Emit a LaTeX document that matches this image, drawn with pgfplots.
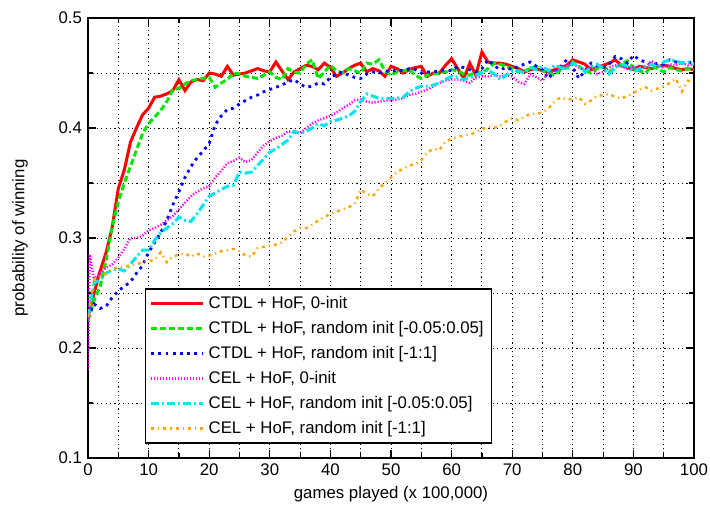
\documentclass[border=0pt]{standalone}
\usepackage{fontspec}
\setmainfont{Liberation Sans}
\usepackage{pgfplots}
\usepackage{pgfplotstable}
\pgfplotsset{compat=1.18}

\definecolor{gpred}{RGB}{255,0,0}
\definecolor{gpgreen}{RGB}{0,230,0}
\definecolor{gpblue}{RGB}{0,0,255}
\definecolor{gpmag}{RGB}{255,0,255}
\definecolor{gpcyan}{RGB}{0,230,240}
\definecolor{gporange}{RGB}{255,165,0}

% columns: x, CTDL 0-init, CTDL small init, CTDL [-1:1], CEL 0-init, CEL small init, CEL [-1:1]
\pgfplotstableread{
x   ctdlz ctdls ctdll celz  cels  cell
0   0.228 0.225 0.228 0.180 0.228 0.228
0.3 nan   nan   nan   0.285 nan   nan
1   0.250 0.243 0.240 0.262 0.259 0.262
2   0.270 0.256 0.236 0.268 0.262 0.265
3   0.287 0.280 0.238 0.273 0.268 0.268
4   0.310 0.310 0.246 0.276 0.271 0.272
5   0.345 0.333 0.252 0.282 0.272 0.273
6   0.362 0.350 0.256 0.290 0.270 0.274
7   0.387 0.365 0.260 0.300 0.276 0.275
8   0.400 0.380 0.268 0.300 0.283 0.276
9   0.412 0.395 0.275 0.302 0.289 0.278
10  0.418 0.404 0.287 0.307 0.289 0.279
11  0.428 0.410 0.296 0.309 0.298 0.280
12  0.429 0.416 0.305 0.312 0.305 0.287
13  0.431 0.424 0.316 0.316 0.309 0.278
14  0.434 0.435 0.330 0.320 0.313 0.283
15  0.444 0.436 0.342 0.326 0.319 0.285
16  0.434 0.440 0.355 0.332 0.316 0.286
17  0.442 0.443 0.365 0.338 0.315 0.283
18  0.444 0.444 0.373 0.342 0.322 0.286
19  0.443 0.445 0.379 0.345 0.330 0.283
20  0.450 0.446 0.386 0.347 0.338 0.284
21  0.449 0.437 0.403 0.355 0.341 0.286
22  0.447 0.441 0.411 0.361 0.344 0.288
23  0.456 0.444 0.417 0.368 0.347 0.289
24  0.448 0.450 0.418 0.370 0.348 0.290
25  0.449 0.449 0.422 0.373 0.360 0.288
26  0.450 0.447 0.425 0.369 0.359 0.284
27  0.452 0.446 0.428 0.371 0.360 0.283
28  0.454 0.445 0.430 0.378 0.366 0.291
29  0.452 0.448 0.433 0.384 0.372 0.292
30  0.451 0.451 0.435 0.388 0.378 0.293
31  0.460 0.446 0.437 0.391 0.381 0.294
32  0.452 0.444 0.439 0.393 0.385 0.296
33  0.444 0.454 0.442 0.397 0.389 0.301
34  0.451 0.451 0.444 0.396 0.397 0.306
35  0.454 0.450 0.440 0.395 0.395 0.309
36  0.457 0.458 0.437 0.400 0.397 0.309
37  0.456 0.462 0.438 0.404 0.400 0.312
38  0.453 0.445 0.441 0.407 0.404 0.316
39  0.459 0.451 0.440 0.409 0.402 0.319
40  0.455 0.457 0.446 0.411 0.406 0.322
41  0.447 0.452 0.449 0.414 0.407 0.324
42  0.450 0.450 0.451 0.418 0.409 0.326
43  0.454 0.454 0.448 0.421 0.411 0.328
44  0.457 0.452 0.446 0.425 0.415 0.331
45  0.459 0.450 0.445 0.426 0.424 0.344
46  0.451 0.459 0.449 0.424 0.431 0.340
47  0.454 0.458 0.451 0.423 0.429 0.338
48  0.452 0.462 0.450 0.424 0.427 0.345
49  0.447 0.452 0.452 0.425 0.427 0.350
50  0.456 0.448 0.451 0.425 0.427 0.355
51  0.454 0.451 0.453 0.426 0.427 0.360
52  0.450 0.452 0.452 0.427 0.428 0.363
53  0.453 0.453 0.454 0.430 0.433 0.366
54  0.455 0.448 0.453 0.431 0.436 0.367
55  0.456 0.445 0.450 0.433 0.438 0.371
56  0.447 0.448 0.451 0.435 0.438 0.378
57  0.450 0.449 0.451 0.438 0.439 0.381
58  0.450 0.450 0.452 0.441 0.441 0.380
59  0.457 0.451 0.453 0.443 0.444 0.388
60  0.463 0.453 0.452 0.444 0.447 0.390
61  0.454 0.452 0.456 0.444 0.446 0.392
62  0.445 0.449 0.455 0.443 0.444 0.393
63  0.459 0.448 0.453 0.441 0.446 0.394
64  0.448 0.451 0.451 0.446 0.448 0.396
65  0.469 0.450 0.454 0.447 0.450 0.399
66  0.460 0.454 0.462 0.447 0.453 0.401
67  0.459 0.459 0.457 0.448 0.449 0.400
68  0.459 0.458 0.453 0.447 0.444 0.402
69  0.458 0.456 0.455 0.448 0.448 0.406
70  0.456 0.454 0.453 0.447 0.451 0.409
71  0.454 0.451 0.456 0.442 0.452 0.407
72  0.451 0.452 0.458 0.440 0.450 0.410
73  0.453 0.454 0.460 0.449 0.455 0.413
74  0.454 0.456 0.456 0.446 0.453 0.413
75  0.452 0.452 0.453 0.443 0.456 0.414
76  0.451 0.450 0.445 0.450 0.452 0.418
77  0.453 0.448 0.452 0.452 0.457 0.424
78  0.455 0.453 0.456 0.454 0.455 0.428
79  0.457 0.455 0.462 0.457 0.453 0.426
80  0.462 0.460 0.455 0.459 0.459 0.426
81  0.460 0.456 0.445 0.455 0.456 0.428
82  0.458 0.452 0.452 0.452 0.451 0.422
83  0.453 0.450 0.459 0.456 0.455 0.425
84  0.455 0.454 0.457 0.449 0.458 0.429
85  0.457 0.456 0.455 0.451 0.454 0.430
86  0.459 0.451 0.458 0.455 0.449 0.431
87  0.462 0.455 0.465 0.457 0.455 0.428
88  0.457 0.458 0.463 0.456 0.458 0.427
89  0.455 0.461 0.459 0.454 0.456 0.429
90  0.453 0.455 0.466 0.456 0.451 0.432
91  0.456 0.452 0.462 0.453 0.454 0.435
92  0.455 0.450 0.460 0.455 0.456 0.437
93  0.454 0.456 0.457 0.461 0.458 0.434
94  0.456 0.454 0.459 0.457 0.455 0.436
95  0.457 0.451 0.458 0.455 0.460 0.438
96  0.456 0.455 0.462 0.458 0.462 0.441
97  0.454 0.453 0.460 0.457 0.461 0.445
98  0.453 0.452 0.459 0.459 0.459 0.433
99  0.454 0.454 0.460 0.457 0.460 0.443
100 0.453 0.453 0.459 0.458 0.458 0.442
}\runs

\begin{document}
\fontsize{8.4}{10}\selectfont
\begin{tikzpicture}
\useasboundingbox (-44pt,-28pt) rectangle (311pt,229pt);
\begin{axis}[
    scale only axis,
    width=303pt, height=220pt,
    xmin=0, xmax=100, ymin=0.1, ymax=0.5,
    xtick={0,10,...,100},
    minor xtick={5,15,...,95},
    ytick={0.1,0.2,0.3,0.4,0.5},
    minor ytick={0.15,0.25,0.35,0.45},
    grid=both,
    grid style={black, line width=0.5pt, dash pattern=on 0.6pt off 1.6pt},
    minor grid style={black, line width=0.5pt, dash pattern=on 0.6pt off 1.6pt},
    axis line style={black, line width=1pt},
    tick style={black, line width=0.6pt},
    major tick length=4pt, minor tick length=2.5pt,
    tick align=inside,
    /pgf/number format/assume math mode=true,
    yticklabel style={/pgf/number format/fixed, /pgf/number format/fixed zerofill, /pgf/number format/precision=1},
    every axis x label/.style={at={(axis description cs:0.5,-0.082)}, anchor=center},
    every axis y label/.style={at={(axis description cs:-0.112,0.5)}, rotate=90, anchor=center},
    xlabel={games played (x 100,000)},
    ylabel={probability of winning},
    legend cell align=left,
    legend style={at={(rel axis cs:0.094,0.386)}, anchor=north west,
        draw=black, line width=0.7pt, fill=white, inner xsep=2pt, inner ysep=1.5pt,
        row sep=1.2pt, font=\fontsize{8.4}{10}\selectfont},
    legend image code/.code={\draw[#1] (0pt,0pt) -- (26pt,0pt);},
]
\addplot[gpred, line width=1.5pt] table[y=ctdlz] {\runs};
\addlegendentry{CTDL + HoF, 0-init}
\addplot[gpgreen, line width=1.5pt, dash pattern=on 3pt off 1.5pt] table[y=ctdls] {\runs};
\addlegendentry{CTDL + HoF, random init [-0.05:0.05]}
\addplot[gpblue, line width=1.4pt, dash pattern=on 1.4pt off 2.2pt] table[y=ctdll] {\runs};
\addlegendentry{CTDL + HoF, random init [-1:1]}
\addplot[gpmag, line width=1.2pt, dash pattern=on 0.6pt off 0.9pt] table[y=celz] {\runs};
\addlegendentry{CEL + HoF, 0-init}
\addplot[gpcyan, line width=1.5pt, dash pattern=on 4pt off 1.5pt on 1pt off 1.5pt] table[y=cels] {\runs};
\addlegendentry{CEL + HoF, random init [-0.05:0.05]}
\addplot[gporange, line width=1.2pt, dash pattern=on 1.5pt off 2pt on 0.6pt off 2pt] table[y=cell] {\runs};
\addlegendentry{CEL + HoF, random init [-1:1]}
\end{axis}
\end{tikzpicture}
\end{document}
